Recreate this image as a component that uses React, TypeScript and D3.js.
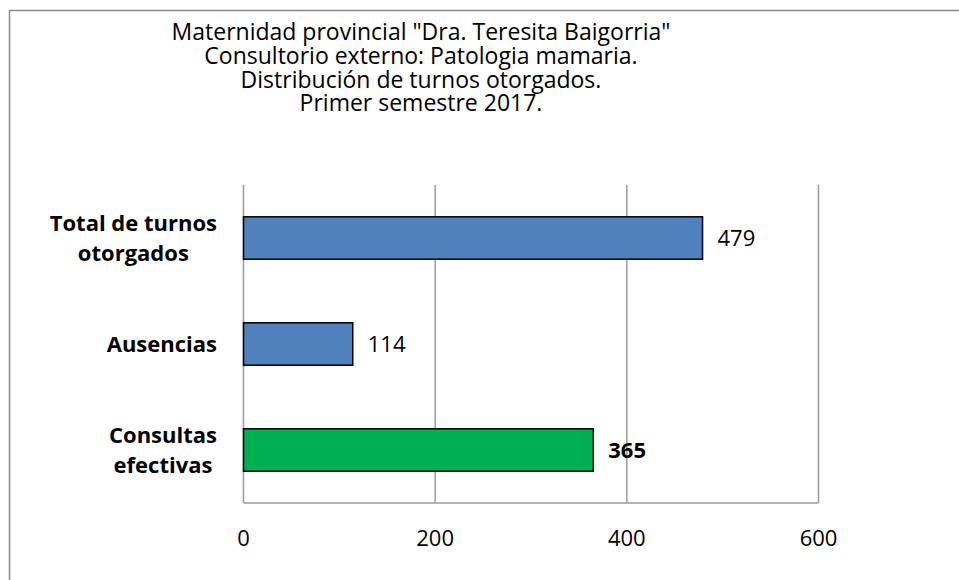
import React, { useEffect, useRef } from "react";
import * as d3 from "d3";

const titleLines = [
  'Maternidad provincial "Dra. Teresita Baigorria"',
  "Consultorio externo: Patologia mamaria.",
  "Distribución de turnos otorgados.",
  "Primer semestre 2017.",
];
const categories = ["Total de turnos otorgados", "Ausencias", "Consultas efectivas"];
const categoryLines = [["Total de turnos", "otorgados"], ["Ausencias"], ["Consultas", "efectivas"]];
const values = [479, 114, 365];
const barColors = ["#4f81bd", "#4f81bd", "#00b050"];
const labelBold = [false, false, true];
const xTicks = [0, 200, 400, 600];

const W = 959;
const H = 580;
const FONT = "'Open Sans', 'Liberation Sans', sans-serif";

export default function App() {
  const ref = useRef<SVGSVGElement>(null);

  useEffect(() => {
    const svg = d3.select(ref.current);
    svg.selectAll("*").remove();

    const left = 243.5, right = 818.5, top = 185, bottom = 503;
    const x = d3.scaleLinear().domain([0, 600]).range([left, right]);
    const y = d3.scaleBand<string>().domain(categories).range([top, bottom]).paddingInner(0.6).paddingOuter(0.3);

    svg.append("rect").attr("width", W).attr("height", H).attr("fill", "#fff");
    // outer border (left/top visible)
    svg.append("path").attr("d", `M9.5,${H + 5}V10.5H${W + 5}`).attr("fill", "none").attr("stroke", "#8a8a8a").attr("stroke-width", 1.5);

    // title
    const title = svg.append("text").attr("font-family", FONT).attr("font-size", 23).attr("fill", "#000").attr("text-anchor", "middle");
    titleLines.forEach((t, i) => {
      title.append("tspan").attr("x", 421).attr("y", 40 + i * 23.8).text(t);
    });

    // gridlines
    svg.append("g").selectAll("line").data(xTicks).join("line")
      .attr("x1", d => x(d)).attr("x2", d => x(d)).attr("y1", top).attr("y2", bottom)
      .attr("stroke", "#9a9a9a").attr("stroke-width", 1.5);
    svg.append("line").attr("x1", left).attr("x2", right).attr("y1", bottom).attr("y2", bottom)
      .attr("stroke", "#9a9a9a").attr("stroke-width", 1.5);

    // bars
    svg.append("g").selectAll("rect").data(categories).join("rect")
      .attr("x", x(0)).attr("y", d => y(d)!)
      .attr("width", (_, i) => x(values[i]) - x(0)).attr("height", y.bandwidth())
      .attr("fill", (_, i) => barColors[i]).attr("stroke", "#000").attr("stroke-width", 1.5);

    // value labels
    svg.append("g").selectAll("text").data(categories).join("text")
      .attr("x", (_, i) => x(values[i]) + 15)
      .attr("y", d => y(d)! + y.bandwidth() / 2)
      .attr("dy", "0.35em")
      .attr("font-family", FONT).attr("font-size", 22)
      .attr("font-weight", (_, i) => (labelBold[i] ? "bold" : "normal"))
      .text((_, i) => String(values[i]));

    // x tick labels
    svg.append("g").selectAll("text").data(xTicks).join("text")
      .attr("x", d => x(d)).attr("y", 538).attr("dy", "0.35em")
      .attr("text-anchor", "middle").attr("font-family", FONT).attr("font-size", 22)
      .text(d => String(d));

    // category labels (multi-line, centered block right-aligned at 217)
    categories.forEach((c, i) => {
      const lines = categoryLines[i];
      const g = svg.append("text").attr("font-family", FONT).attr("font-size", 22).attr("font-weight", "bold").attr("text-anchor", "middle");
      const spans = lines.map(l => g.append("tspan").text(l));
      const widths = spans.map(s => (s.node() as SVGTSpanElement).getComputedTextLength());
      const maxW = Math.max(...widths);
      const cx = 217 - maxW / 2;
      const cy = y(c)! + y.bandwidth() / 2;
      const lh = 30;
      spans.forEach((s, j) => {
        s.attr("x", cx).attr("y", cy + (j - (lines.length - 1) / 2) * lh).attr("dy", "0.35em");
      });
    });
  }, []);

  return (
    <div style={{ position: "absolute", left: 0, top: 0 }}>
      <svg ref={ref} width={W} height={H} style={{ display: "block" }} />
    </div>
  );
}
